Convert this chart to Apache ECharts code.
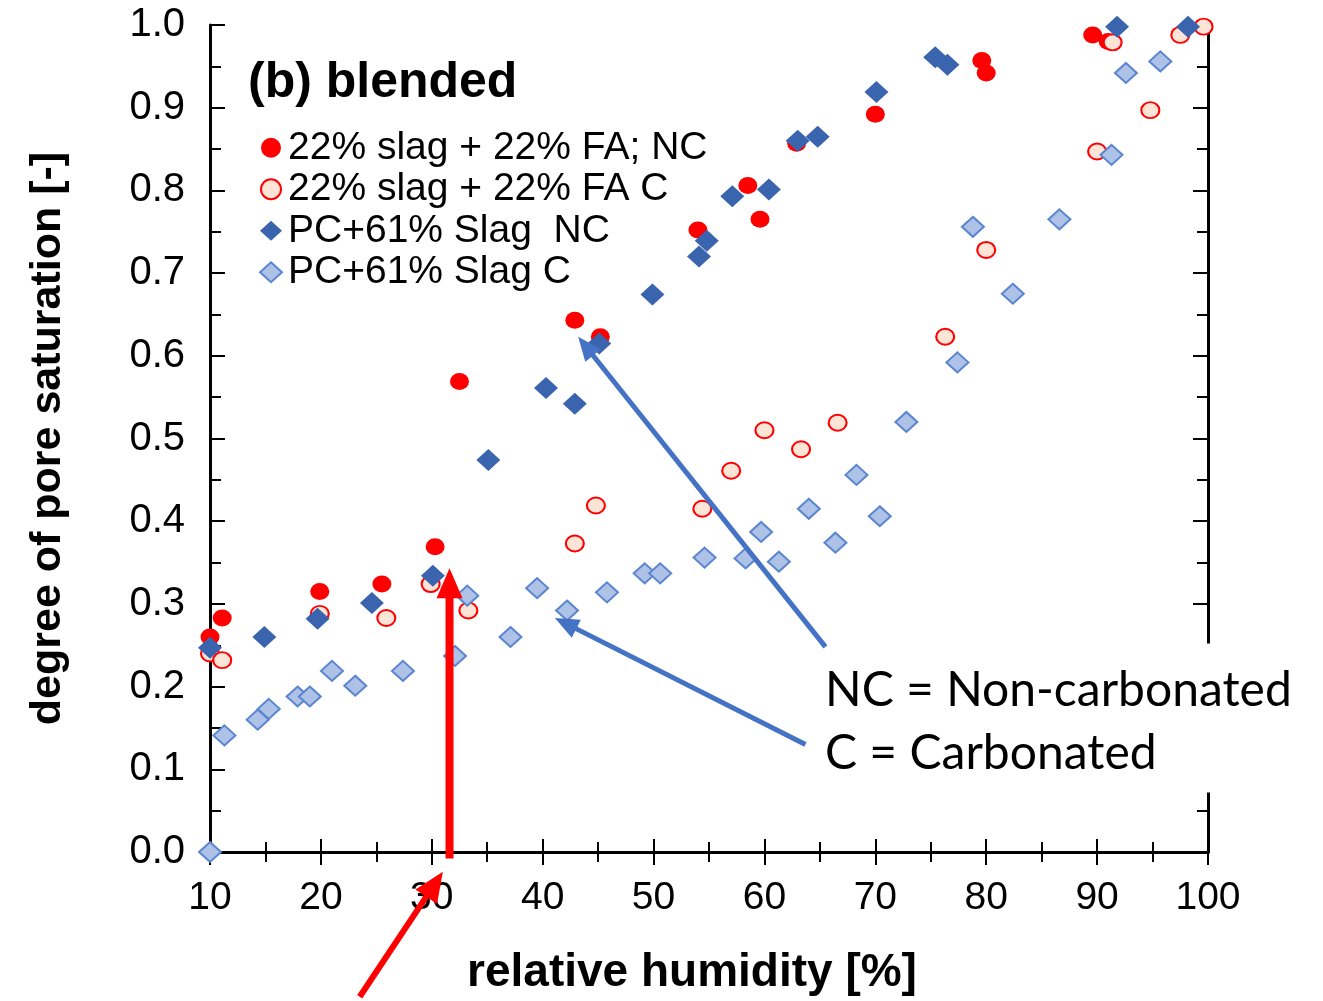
<!DOCTYPE html>
<html>
<head>
<meta charset="utf-8">
<title>Pore saturation vs relative humidity</title>
<script src="https://cdn.jsdelivr.net/npm/echarts@6/dist/echarts.min.js"></script>
<style>
  html, body { margin: 0; padding: 0; background: #fff; }
  #chart { width: 1323px; height: 1001px; }
</style>
</head>
<body>
<div id="chart"></div>
<script>
// Degree of pore saturation [-] against relative humidity [%], pairs of [RH, saturation]
const slagFaNC = [[10,0.26],[11.1,0.283],[19.9,0.315],[25.5,0.324],[30.3,0.369],[32.5,0.569],[42.9,0.643],[45.2,0.623],[54.0,0.752],[58.5,0.806],[59.6,0.765],[62.9,0.857],[70.0,0.892],[79.6,0.957],[80.0,0.942],[89.6,0.988],[91.0,0.98]];
const slagFaC = [[10,0.24],[11.1,0.232],[19.9,0.288],[25.9,0.283],[29.9,0.324],[33.3,0.292],[42.9,0.373],[44.8,0.419],[54.4,0.415],[57.0,0.461],[60.0,0.510],[63.3,0.487],[66.6,0.519],[76.3,0.623],[80.0,0.728],[90.0,0.847],[94.8,0.897],[91.4,0.979],[97.5,0.988],[99.6,0.998]];
const slag61NC = [[10,0.247],[14.9,0.26],[19.7,0.282],[24.6,0.301],[30.1,0.334],[35.1,0.474],[40.3,0.561],[42.9,0.542],[45.1,0.615],[49.9,0.674],[54.1,0.720],[54.8,0.739],[57.1,0.793],[60.4,0.801],[63.0,0.860],[64.8,0.865],[70.1,0.919],[75.4,0.961],[76.5,0.952],[91.8,0.998],[98.2,0.998]];
const slag61C = [[10,0],[11.3,0.141],[14.3,0.160],[15.3,0.173],[17.9,0.188],[19.0,0.188],[21.0,0.219],[23.1,0.201],[27.4,0.219],[32.1,0.237],[33.2,0.310],[37.1,0.260],[39.5,0.319],[42.2,0.292],[45.8,0.314],[49.2,0.337],[50.6,0.337],[54.6,0.356],[58.3,0.355],[59.7,0.387],[61.3,0.351],[64.0,0.415],[66.4,0.374],[68.3,0.456],[70.4,0.406],[72.8,0.520],[77.4,0.592],[78.8,0.756],[82.4,0.675],[86.6,0.765],[91.3,0.843],[92.6,0.942],[95.7,0.956]];

const seriesNames = ['22% slag + 22% FA; NC', '22% slag + 22% FA C', 'PC+61% Slag  NC', 'PC+61% Slag C'];
const panelTitle = '(b) blended';
const xName = 'relative humidity [%]';
const yName = 'degree of pore saturation [-]';
const noteLines = ['NC = Non-carbonated', 'C = Carbonated'];

// Annotation arrows, given in axis units: [from, to]
const blueArrows = [[[65.5, 0.248], [43.2, 0.623]], [[63.7, 0.130], [41.1, 0.283]]];
const redArrows = [[[31.6, -0.008], [31.6, 0.343]], [[23.5, -0.175], [31.0, -0.024]]];

const FONT = '"Liberation Sans", Arial, sans-serif';
const chart = echarts.init(document.getElementById('chart'), null, { renderer: 'canvas' });

const frameAxis = {
  axisLine: { show: true, lineStyle: { color: '#000', width: 3 } },
  axisTick: { show: true, inside: true, length: 13, lineStyle: { color: '#000', width: 2 } },
  minorTick: { show: true, splitNumber: 2, length: 10, lineStyle: { color: '#000', width: 2 } },
  splitLine: { show: false },
  axisLabel: { show: false }
};

chart.setOption({
  animation: false,
  backgroundColor: '#fff',
  title: {
    text: panelTitle, left: 243, top: 53,
    textStyle: { fontFamily: FONT, fontSize: 50, fontWeight: 'bold', color: '#000' }
  },
  legend: {
    orient: 'vertical', left: 254, top: 122,
    itemWidth: 22, itemHeight: 20, itemGap: 0,
    textStyle: { fontFamily: FONT, fontSize: 39, color: '#000', lineHeight: 41.5, padding: [0, 0, 0, 1] },
    data: seriesNames
  },
  grid: { left: 210, top: 25, right: 115, bottom: 145 },
  xAxis: [
    Object.assign({}, frameAxis, {
      type: 'value', min: 10, max: 100, interval: 10, position: 'bottom',
      axisLabel: { show: true, margin: 27, fontFamily: FONT, fontSize: 39, color: '#000' },
      name: xName, nameLocation: 'middle', nameGap: 98,
      nameTextStyle: { fontFamily: FONT, fontSize: 46, fontWeight: 'bold', color: '#000', padding: [0, 34, 0, 0] }
    }),
    Object.assign({}, frameAxis, { type: 'value', min: 10, max: 100, interval: 10, position: 'top' })
  ],
  yAxis: [
    Object.assign({}, frameAxis, {
      type: 'value', min: 0, max: 1, interval: 0.1, position: 'left',
      axisTick: { show: true, inside: true, length: 15, lineStyle: { color: '#000', width: 2 } },
      minorTick: { show: true, splitNumber: 2, length: 11, lineStyle: { color: '#000', width: 2 } },
      axisLabel: { show: true, margin: 25, fontFamily: FONT, fontSize: 40, color: '#000', formatter: v => v.toFixed(1) },
      name: yName, nameLocation: 'middle', nameGap: 140, nameRotate: 90,
      nameTextStyle: { fontFamily: FONT, fontSize: 43, fontWeight: 'bold', color: '#000' }
    }),
    Object.assign({}, frameAxis, {
      type: 'value', min: 0, max: 1, interval: 0.1, position: 'right',
      axisTick: { show: true, inside: true, length: 15, lineStyle: { color: '#000', width: 2 } },
      minorTick: { show: true, splitNumber: 2, length: 11, lineStyle: { color: '#000', width: 2 } }
    })
  ],
  series: [
    {
      name: seriesNames[0], type: 'scatter', data: slagFaNC, clip: false,
      symbol: 'circle', symbolSize: [19, 17],
      itemStyle: { color: '#ff0000', opacity: 1 }
    },
    {
      name: seriesNames[1], type: 'scatter', data: slagFaC, clip: false,
      symbol: 'circle', symbolSize: [18, 16],
      itemStyle: { color: '#fce4d6', borderColor: '#ff0000', borderWidth: 2, opacity: 1 }
    },
    {
      name: seriesNames[2], type: 'scatter', data: slag61NC, clip: false,
      symbol: 'diamond', symbolSize: [24, 22],
      itemStyle: { color: '#3a64ad', opacity: 1 }
    },
    {
      name: seriesNames[3], type: 'scatter', data: slag61C, clip: false,
      symbol: 'diamond', symbolSize: [22, 20],
      itemStyle: { color: '#adc2e6', borderColor: '#5b86cf', borderWidth: 2, opacity: 1 }
    }
  ]
});

// Arrow built from a shaft and a triangular head, in pixel space
function arrow(p0, p1, width, headLen, headHalf, color) {
  const dx = p1[0] - p0[0], dy = p1[1] - p0[1];
  const len = Math.sqrt(dx * dx + dy * dy);
  const ux = dx / len, uy = dy / len, nx = -uy, ny = ux;
  const bx = p1[0] - ux * headLen, by = p1[1] - uy * headLen;
  return [
    { type: 'line', z: 120, shape: { x1: p0[0], y1: p0[1], x2: bx + ux * 2, y2: by + uy * 2 },
      style: { stroke: color, lineWidth: width } },
    { type: 'polygon', z: 120, shape: { points: [[p1[0], p1[1]], [bx + nx * headHalf, by + ny * headHalf], [bx - nx * headHalf, by - ny * headHalf]] },
      style: { fill: color } }
  ];
}

const px = p => chart.convertToPixel({ xAxisIndex: 0, yAxisIndex: 0 }, p);
const graphics = [];
// White note box sitting over the right frame
const boxTop = px([100, 0.252]), boxBottom = px([100, 0.072]);
graphics.push({ type: 'rect', z: 110, shape: { x: 812, y: boxTop[1], width: 511, height: boxBottom[1] - boxTop[1] }, style: { fill: '#fff' } });
graphics.push({
  type: 'text', z: 115, left: 825, top: boxTop[1] + 15,
  style: { text: noteLines.join('\n'), font: '48px Lato, "Open Sans", sans-serif', fill: '#000', lineHeight: 63 }
});
blueArrows.forEach(a => arrow(px(a[0]), px(a[1]), 5, 24, 10, '#4472c4').forEach(g => graphics.push(g)));
redArrows.forEach((a, i) => arrow(px(a[0]), px(a[1]), i === 0 ? 8 : 6, 30, 13, '#ff0000').forEach(g => graphics.push(g)));
chart.setOption({ graphic: graphics });
</script>
</body>
</html>
